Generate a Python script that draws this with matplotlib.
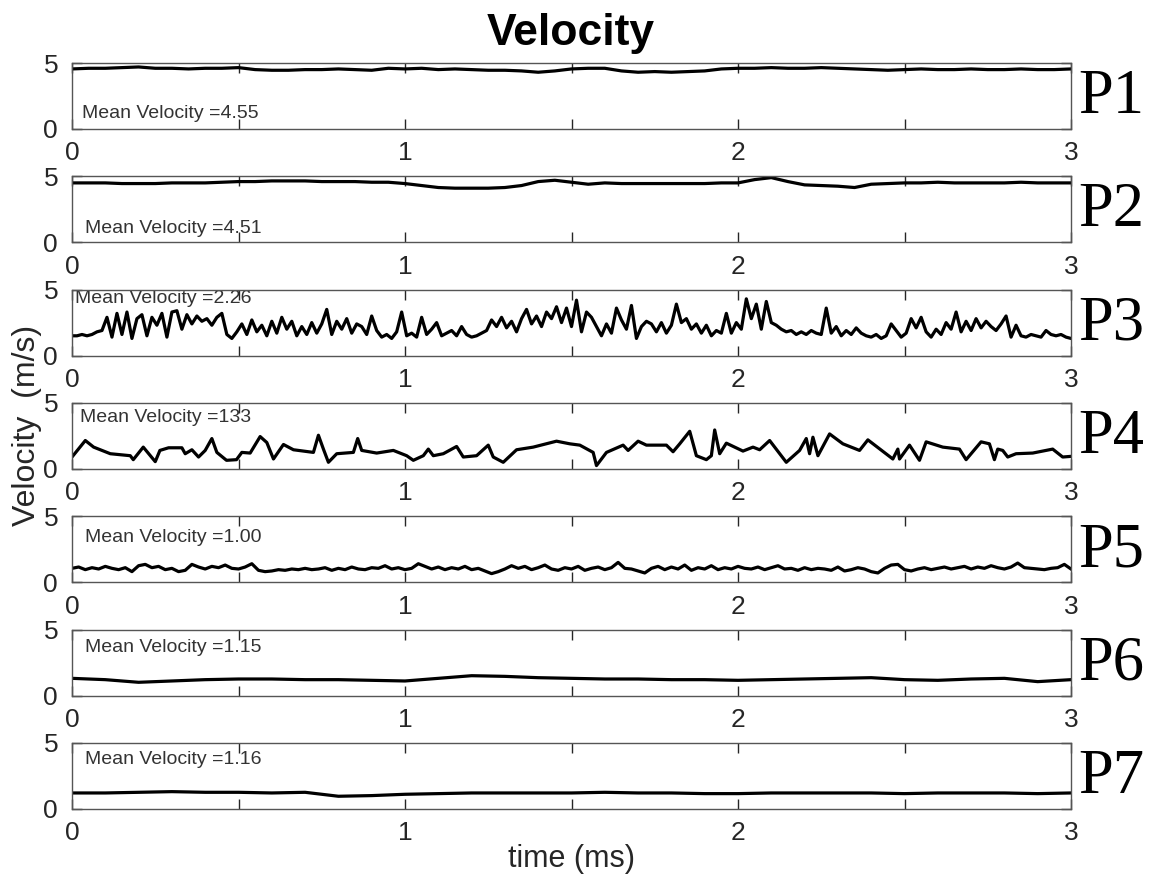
import numpy as np
import matplotlib
matplotlib.use("Agg")
import matplotlib.pyplot as plt

plt.rcParams['font.family'] = ['Liberation Sans', 'DejaVu Sans']

# velocity traces (m/s) at the seven probe points, time in ms
p1_v = [4.55, 4.6, 4.6, 4.65, 4.7, 4.6, 4.6, 4.55, 4.6, 4.6, 4.65,
        4.5, 4.45, 4.45, 4.5, 4.5, 4.55, 4.5, 4.45, 4.6, 4.55, 4.6, 4.5,
        4.55, 4.5, 4.45, 4.45, 4.4, 4.3, 4.4, 4.55, 4.6, 4.6, 4.4,
        4.3, 4.35, 4.3, 4.35, 4.4, 4.55, 4.6, 4.6, 4.65, 4.6, 4.6, 4.65,
        4.6, 4.55, 4.5, 4.45, 4.5, 4.55, 4.5, 4.5, 4.55, 4.5, 4.5,
        4.55, 4.5, 4.5, 4.55]

p2_v = [4.5, 4.5, 4.5, 4.45, 4.45, 4.45, 4.5, 4.5, 4.5, 4.55,
        4.6, 4.6, 4.65, 4.65, 4.65, 4.6, 4.6, 4.6, 4.55, 4.55,
        4.45, 4.3, 4.15, 4.1, 4.1, 4.1, 4.15, 4.3, 4.6, 4.7,
        4.55, 4.4, 4.5, 4.45, 4.45, 4.45, 4.45, 4.45, 4.45, 4.5,
        4.5, 4.75, 4.9, 4.6, 4.35, 4.3, 4.25, 4.15, 4.4, 4.45,
        4.5, 4.5, 4.55, 4.5, 4.5, 4.5, 4.5, 4.55, 4.5, 4.5, 4.5]

p3_v = [1.5, 1.5, 1.6, 1.5, 1.6, 1.8, 1.9,
        2.9, 1.4, 3.2, 1.6, 3.3, 1.3, 2.8, 3.1, 1.5, 2.9, 2.3, 3.2, 1.4, 3.3,
        3.4, 2.0, 3.1, 2.4, 3.0, 2.6,
        2.8, 2.3, 2.9, 3.2,
        1.6, 1.3, 1.8,
        2.4, 1.6, 2.7, 1.8, 2.3, 1.5, 2.6, 1.7, 2.9, 2.0, 2.6, 1.5, 2.2, 1.6, 2.5, 1.7,
        2.4, 3.5, 1.6,
        2.6, 2.0, 2.8, 1.7, 2.4, 2.2, 1.6, 3.0, 1.9, 1.4, 1.6, 1.3,
        1.8, 3.3, 1.5,
        1.7, 1.4, 2.9, 1.6, 2.0, 2.5, 1.5, 1.7, 1.9, 1.5, 2.2, 1.6, 1.4, 1.5, 1.7,
        1.9, 2.7, 2.2, 2.9, 2.1, 2.6, 1.8, 2.8,
        3.5, 2.4, 3.0, 2.2, 3.3, 2.8, 3.7, 2.5, 3.6, 2.2,
        4.2, 1.8, 3.3, 2.9, 2.2, 1.5, 2.4, 1.7, 3.6, 2.7,
        2.0, 3.8, 1.3, 2.2, 2.6, 2.4, 1.8, 2.5, 1.7, 2.3,
        3.9, 2.5, 2.8, 2.0, 2.4, 1.7, 2.3, 1.5, 1.9, 1.7,
        3.2, 1.7, 2.5, 2.0, 4.3, 2.8, 3.9, 2.0, 4.1, 2.5,
        2.3, 2.0, 1.8, 1.9, 1.6, 1.8, 1.6, 1.9, 1.7, 1.6,
        3.6, 1.7, 2.2, 1.5, 1.9, 1.6, 2.1, 1.7, 1.5, 1.4,
        1.6, 1.3, 1.5, 2.4, 1.9, 1.4, 1.7, 2.8, 2.1, 2.9,
        1.8, 1.4, 2.0, 1.6, 2.5, 2.0, 3.3, 1.8, 2.6, 1.9,
        2.8, 2.1, 2.6, 2.2, 1.9, 2.4, 3.0, 1.4, 2.3, 1.5,
        1.4, 1.6, 1.5, 1.4, 1.9, 1.6, 1.5, 1.6, 1.4, 1.3]

p4_t = [0.0, 0.04, 0.065, 0.115, 0.175, 0.184, 0.214, 0.25, 0.264, 0.29,
        0.33, 0.34, 0.36, 0.38, 0.4, 0.42, 0.435, 0.464, 0.494, 0.51,
        0.535, 0.565, 0.585, 0.605, 0.635, 0.665, 0.725, 0.74, 0.755, 0.77,
        0.795, 0.845, 0.858, 0.87, 0.915, 0.965, 1.005, 1.025, 1.055, 1.07,
        1.085, 1.115, 1.155, 1.175, 1.215, 1.25, 1.265, 1.295, 1.335, 1.385,
        1.455, 1.495, 1.525, 1.565, 1.575, 1.605, 1.655, 1.67, 1.7, 1.725,
        1.785, 1.805, 1.825, 1.855, 1.875, 1.905, 1.92, 1.93, 1.945, 1.965,
        2.015, 2.045, 2.065, 2.095, 2.145, 2.185, 2.205, 2.215, 2.225, 2.24,
        2.275, 2.315, 2.365, 2.39, 2.465, 2.48, 2.485, 2.515, 2.545, 2.565,
        2.615, 2.665, 2.685, 2.73, 2.755, 2.77, 2.78, 2.795, 2.81, 2.835,
        2.885, 2.945, 2.975, 3.0]
p4_v = [0.9, 2.15, 1.65, 1.15, 1.0, 0.7, 1.65, 0.55, 1.4, 1.6,
        1.6, 1.15, 1.45, 0.9, 1.4, 2.3, 1.25, 0.65, 0.7, 1.25,
        1.2, 2.45, 2.0, 0.75, 1.85, 1.45, 1.25, 2.55, 1.5, 0.5,
        1.15, 1.25, 2.3, 1.4, 1.2, 1.4, 1.0, 0.65, 1.0, 1.5,
        1.0, 1.15, 1.7, 0.9, 1.0, 1.8, 0.9, 0.5, 1.45, 1.65,
        2.1, 1.9, 1.8, 1.25, 0.25, 1.25, 1.8, 1.4, 2.1, 1.8,
        1.8, 1.3, 1.9, 2.85, 1.0, 0.7, 1.0, 2.95, 1.15, 1.95,
        1.35, 1.65, 1.45, 2.15, 0.5, 1.4, 2.3, 1.15, 2.4, 1.0,
        2.65, 1.9, 1.4, 2.2, 0.75, 1.5, 0.75, 1.8, 0.65, 2.05,
        1.65, 1.5, 0.7, 2.05, 1.9, 0.7, 1.5, 1.4, 0.9, 1.15,
        1.2, 1.5, 0.9, 0.95]

p5_v = [1.05, 1.15, 0.95, 1.1, 1.0, 1.2, 1.05, 0.95, 1.1, 0.8,
        1.25, 1.35, 1.1, 1.2, 0.95, 1.05, 0.8, 0.9, 1.35, 1.15,
        1.0, 1.2, 1.1, 1.3, 1.05, 1.0, 1.15, 1.4, 0.9, 0.8,
        0.85, 0.95, 0.9, 1.0, 0.95, 1.05, 0.95, 1.0, 1.1, 0.9,
        1.05, 0.95, 1.15, 1.0, 0.95, 1.1, 1.05, 1.25, 1.0, 1.1,
        0.95, 1.05, 1.4, 1.2, 1.0, 1.15, 0.95, 1.1, 1.0, 1.2,
        0.95, 1.05, 0.85, 0.65, 0.8, 1.0, 1.25, 1.05, 1.2, 0.95,
        1.1, 1.3, 1.0, 0.9, 1.1, 1.0, 1.2, 0.9, 1.05, 1.15,
        0.95, 1.1, 1.5, 1.05, 1.0, 0.85, 0.7, 1.05, 1.2, 0.95,
        1.15, 1.0, 1.3, 0.9, 1.1, 1.0, 1.25, 0.95, 1.1, 1.0,
        1.2, 1.05, 1.0, 1.15, 0.95, 1.1, 1.25, 1.0, 1.05, 0.9,
        1.1, 0.95, 1.05, 1.0, 0.9, 1.15, 0.85, 0.95, 1.1, 1.0,
        0.8, 0.7, 1.05, 1.3, 1.35, 0.95, 0.85, 1.0, 1.1, 0.95,
        1.05, 1.15, 1.0, 1.1, 1.2, 1.0, 1.15, 1.05, 1.25, 1.1,
        1.0, 1.15, 1.45, 1.1, 1.05, 1.0, 0.95, 1.05, 1.1, 1.35, 1.0]

p6_v = [1.3, 1.2, 1.0, 1.1, 1.2, 1.25, 1.25, 1.2, 1.2, 1.15, 1.1,
        1.3, 1.5, 1.45, 1.35, 1.3, 1.25, 1.25, 1.2, 1.2, 1.15,
        1.2, 1.25, 1.3, 1.35, 1.2, 1.15, 1.25, 1.3, 1.05, 1.2]

p7_v = [1.2, 1.2, 1.25, 1.3, 1.25, 1.25, 1.2, 1.25, 0.95, 1.0, 1.1,
        1.15, 1.2, 1.2, 1.2, 1.2, 1.25, 1.2, 1.2, 1.15, 1.15,
        1.2, 1.2, 1.2, 1.2, 1.15, 1.2, 1.2, 1.2, 1.15, 1.2]

series = [
    (np.linspace(0, 3, len(p1_v)), p1_v),
    (np.linspace(0, 3, len(p2_v)), p2_v),
    (np.linspace(0, 3, len(p3_v)), p3_v),
    (p4_t, p4_v),
    (np.linspace(0, 3, len(p5_v)), p5_v),
    (np.linspace(0, 3, len(p6_v)), p6_v),
    (np.linspace(0, 3, len(p7_v)), p7_v),
]
names = ['P1', 'P2', 'P3', 'P4', 'P5', 'P6', 'P7']
mean_labels = ['4.55', '4.51', '2.26', '133', '1.00', '1.15', '1.16']
# where the mean text sits inside each panel (axes fraction)
mean_pos = [(0.010, 0.23), (0.013, 0.21), (0.003, 0.86), (0.008, 0.78),
            (0.013, 0.68), (0.013, 0.72), (0.013, 0.74)]

W, H = 1151, 880
fig = plt.figure(figsize=(W / 100, H / 100), dpi=100)

left, width = 72 / W, 999 / W
ph = 66
grey = '#262626'
for i, ((t, v), name, lab, pos) in enumerate(zip(series, names, mean_labels, mean_pos)):
    top = 63 + i * 113.3
    ax = fig.add_axes([left, 1 - (top + ph) / H, width, ph / H])
    ax.plot(t, v, color='black', lw=2.3)
    ax.set_xlim(0, 3)
    ax.set_ylim(0, 5)
    ax.set_xticks(np.arange(0, 3.01, 0.5))
    ax.set_xticklabels(['0', '', '1', '', '2', '', '3'])
    ax.set_yticks([0, 5])
    ax.tick_params(direction='in', top=True, right=True, length=7, width=1,
                   color=grey, labelcolor=grey, labelsize=19)
    ax.tick_params(axis='x', pad=9)
    ax.tick_params(axis='y', pad=10)
    for s in ax.spines.values():
        s.set_color('#555555')
        s.set_linewidth(1.0)
    ax.text(pos[0], pos[1], 'Mean Velocity =' + lab, transform=ax.transAxes,
            fontsize=14, color='#333333', va='center', ha='left', zorder=1)
    fig.text(1078 / W, 1 - (top + ph / 2 + 2) / H, name, family='Liberation Serif',
             fontsize=45, va='center', ha='left')

fig.text(571 / W, 1 - 33 / H, 'Velocity', fontsize=32, fontweight='bold',
         ha='center', va='center')
fig.text(27 / W, 1 - 425 / H, 'Velocity  (m/s)', fontsize=23, rotation=90,
         ha='center', va='center', color=grey)
fig.text(571 / W, 1 - 859 / H, 'time (ms)', fontsize=22, ha='center',
         va='center', color=grey)

fig.savefig('out.png', dpi=100)
